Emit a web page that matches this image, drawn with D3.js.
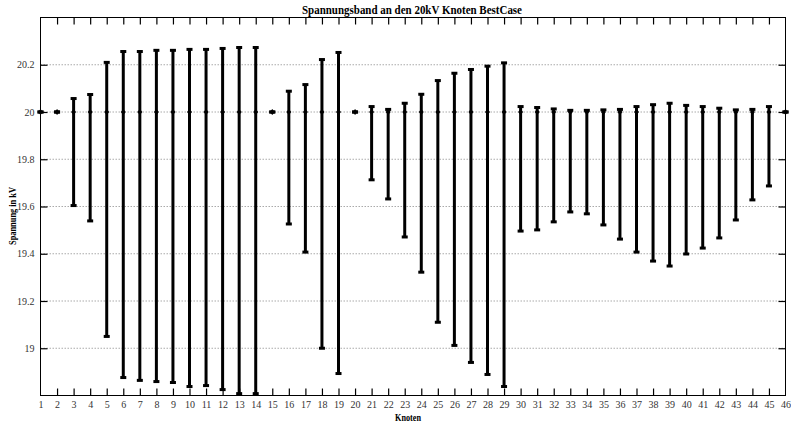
<!DOCTYPE html>
<html>
<head>
<meta charset="utf-8">
<script src="https://cdn.jsdelivr.net/npm/d3@7"></script>
<style>
  html, body { margin: 0; padding: 0; background: #fff; }
  svg { display: block; }
  text { font-family: "Liberation Serif", "Times New Roman", serif; }
</style>
</head>
<body>
<svg id="chart" width="791" height="425"></svg>
<script>
// Knoten (node numbers) along the x axis
const knoten = [1, 2, 3, 4, 5, 6, 7, 8, 9, 10, 11, 12, 13, 14, 15, 16, 17, 18, 19, 20, 21, 22, 23,
                24, 25, 26, 27, 28, 29, 30, 31, 32, 33, 34, 35, 36, 37, 38, 39, 40, 41, 42, 43, 44, 45, 46];

// nominal voltage (centre marker of every band), kV
const nennspannung = 20;

// upper end of the voltage band per node, kV
const umax = [20.000, 20.000, 20.057, 20.074, 20.210, 20.256, 20.256, 20.261, 20.261, 20.265,
              20.265, 20.269, 20.273, 20.273, 20.000, 20.088, 20.116, 20.222, 20.252, 20.000,
              20.023, 20.011, 20.037, 20.075, 20.133, 20.164, 20.180, 20.194, 20.208, 20.023,
              20.019, 20.013, 20.007, 20.007, 20.009, 20.011, 20.023, 20.031, 20.037, 20.028,
              20.023, 20.016, 20.009, 20.011, 20.023, 20.000];

// lower end of the voltage band per node, kV
const umin = [20.000, 20.000, 19.604, 19.539, 19.050, 18.876, 18.864, 18.859, 18.855, 18.838,
              18.842, 18.825, 18.808, 18.808, 20.000, 19.526, 19.407, 19.000, 18.893, 20.000,
              19.713, 19.632, 19.471, 19.322, 19.110, 19.012, 18.940, 18.889, 18.838, 19.496,
              19.501, 19.535, 19.577, 19.569, 19.522, 19.462, 19.407, 19.369, 19.348, 19.399,
              19.424, 19.467, 19.543, 19.628, 19.687, 20.000];

// y tick values and their labels
const yTicks = [19, 19.2, 19.4, 19.6, 19.8, 20, 20.2];
const yTickLabels = ["19", "19.2", "19.4", "19.6", "19.8", "20", "20.2"];

const titel = "Spannungsband an den 20kV Knoten BestCase";
const xTitel = "Knoten";
const yTitel = "Spannung in kV";

const svg = d3.select("#chart");
const L = 40.5, R = 785.5, T = 17.5, B = 395.5;

const x = d3.scaleLinear().domain([1, 46]).range([L, R]);
const y = d3.scaleLinear().domain([18.8, 20.4]).range([B, T]);

// horizontal dotted grid lines
svg.append("g").selectAll("line").data(yTicks).join("line")
  .attr("x1", L).attr("x2", R)
  .attr("y1", d => y(d)).attr("y2", d => y(d))
  .attr("stroke", "#aaa").attr("stroke-width", 1)
  .attr("stroke-dasharray", "1.5,1.5");

// axes with inward ticks on all four sides
const tickLen = 7;
const axBottom = svg.append("g").attr("transform", `translate(0,${B})`)
  .call(d3.axisBottom(x).tickValues(knoten).tickSize(-tickLen).tickPadding(10).tickFormat(d3.format("d")));
const axTop = svg.append("g").attr("transform", `translate(0,${T})`)
  .call(d3.axisTop(x).tickValues(knoten).tickSize(-tickLen).tickFormat(""));
const axLeft = svg.append("g").attr("transform", `translate(${L},0)`)
  .call(d3.axisLeft(y).tickValues(yTicks).tickSize(-tickLen).tickPadding(4)
        .tickFormat((d, i) => yTickLabels[i]));
const axRight = svg.append("g").attr("transform", `translate(${R},0)`)
  .call(d3.axisRight(y).tickValues(yTicks).tickSize(-tickLen).tickFormat(""));

[axBottom, axTop, axLeft, axRight].forEach(a => {
  a.select(".domain").remove();
  a.selectAll(".tick line").attr("stroke", "#000").attr("stroke-width", 1.2);
  a.selectAll(".tick text").attr("fill", "#333")
    .style("font-family", "'Liberation Serif', serif").style("font-size", "10px");
});
// drop first/last tick marks that would overlay the frame
axBottom.selectAll(".tick line").filter(d => d === 1 || d === 46).remove();
axTop.selectAll(".tick line").filter(d => d === 1 || d === 46).remove();
axBottom.selectAll(".tick text").attr("dy", "0.2em");
axLeft.selectAll(".tick text").attr("dx", "-0.2em");

// frame
svg.append("rect").attr("x", L).attr("y", T).attr("width", R - L).attr("height", B - T)
  .attr("fill", "none").attr("stroke", "#000").attr("stroke-width", 1);

// voltage bands as error bars
const rows = knoten.map((k, i) => ({ k, lo: umin[i], hi: umax[i] }));
const bars = svg.append("g");
bars.selectAll("line.band").data(rows).join("line").attr("class", "band")
  .attr("x1", d => x(d.k)).attr("x2", d => x(d.k))
  .attr("y1", d => y(d.lo)).attr("y2", d => y(d.hi))
  .attr("stroke", "#000").attr("stroke-width", 3);
const capW = 6, capH = 3;
bars.selectAll("rect.capHi").data(rows).join("rect").attr("class", "capHi")
  .attr("x", d => x(d.k) - capW / 2).attr("y", d => y(d.hi) - capH / 2)
  .attr("width", capW).attr("height", capH).attr("fill", "#000");
bars.selectAll("rect.capLo").data(rows).join("rect").attr("class", "capLo")
  .attr("x", d => x(d.k) - capW / 2).attr("y", d => y(d.lo) - capH / 2)
  .attr("width", capW).attr("height", capH).attr("fill", "#000");
// centre marker at nominal voltage
bars.selectAll("path.mid").data(rows).join("path").attr("class", "mid")
  .attr("transform", d => `translate(${x(d.k)},${y(nennspannung)})`)
  .attr("d", "M-2.5,0L0,-3L2.5,0L0,3Z").attr("fill", "#000");

// titles
const condense = (sel, len) => sel.attr("textLength", len).attr("lengthAdjust", "spacingAndGlyphs");
condense(svg.append("text").attr("x", 412).attr("y", 13.5).attr("text-anchor", "middle")
  .attr("font-weight", "bold").attr("font-size", 11.5).text(titel), 220);
condense(svg.append("text").attr("x", 408).attr("y", 420.5).attr("text-anchor", "middle")
  .attr("font-weight", "bold").attr("font-size", 10.5).text(xTitel), 26);
condense(svg.append("text").attr("transform", "translate(15.5,216) rotate(-90)")
  .attr("text-anchor", "middle").attr("font-weight", "bold").attr("font-size", 10.5).text(yTitel), 58);
</script>
</body>
</html>
